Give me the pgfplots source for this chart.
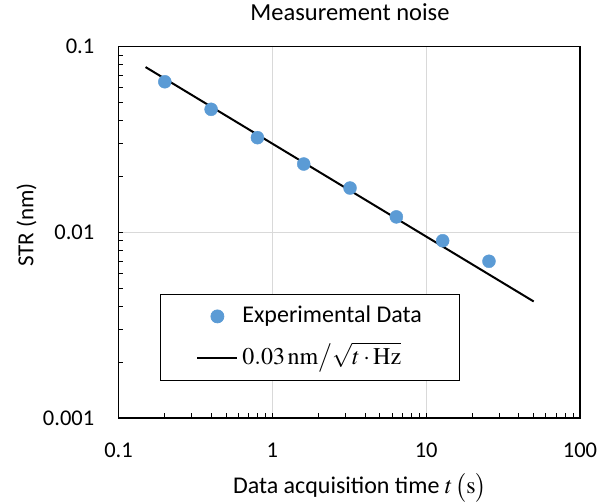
\RequirePackage{fix-cm}
\documentclass[border=0pt]{standalone}
\usepackage{mathptmx}
\usepackage[no-math]{fontspec}
\setmainfont{Carlito}
\usepackage{pgfplots}
\pgfplotsset{compat=1.18}
\definecolor{ptblue}{HTML}{5B9BD5}
\definecolor{gridgray}{HTML}{D9D9D9}
\begin{document}
\fontsize{22}{26}\selectfont
\begin{tikzpicture}
\useasboundingbox (-118.5pt,-85pt) rectangle (482.5pt,418pt);
\begin{axis}[
  at={(0pt,0pt)}, anchor=south west,
  xmode=log, ymode=log,
  scale only axis, width=461.5pt, height=371.5pt,
  xmin=0.1, xmax=100, ymin=0.001, ymax=0.1,
  xtick={0.1,1,10,100}, xticklabels={0.1,1,10,100},
  ytick={0.001,0.01,0.1}, yticklabels={0.001,0.01,0.1},
  tick pos=left,
  tick align=inside,
  major tick length=5pt, minor tick length=5pt,
  tick style={black, line width=0.8pt},
  grid=major, major grid style={gridgray, line width=0.8pt},
  axis line style={black, line width=1.3pt},
  xticklabel style={anchor=north, inner sep=0pt, yshift=-25pt, font=\fontsize{22.5}{26}\selectfont},
  yticklabel style={anchor=east, inner sep=0pt, xshift=-24pt, font=\fontsize{22.5}{26}\selectfont},
  title={Measurement noise},
  title style={at={(axis description cs:0.5016,1.0525)}, anchor=base, inner sep=0pt, font=\fontsize{24.5}{28}\selectfont},
  xlabel={Data acquisition time $t\,\bigl(\mathrm{s}\bigr)$},
  xlabel style={at={(axis description cs:0.523,-0.204)}, anchor=base, inner sep=0pt, font=\fontsize{24}{28}\selectfont},
  ylabel={STR (nm)},
  ylabel style={at={(axis description cs:-0.199,0.5195)}, anchor=center, inner sep=0pt, font=\fontsize{23}{28}\selectfont},
  legend style={at={(axis description cs:0.0899,0.3338)}, anchor=north west,
    draw=black, line width=0.8pt, inner xsep=36pt, inner ysep=6pt,
    row sep=10pt, column sep=2pt,
    nodes={inner xsep=2pt, inner ysep=2pt, text height=20pt, text depth=8pt},
    font=\fontsize{24}{28}\selectfont},
  legend cell align=left,
  legend image code/.code={\draw[mark repeat=2,mark phase=2] plot coordinates {(0pt,0pt) (20pt,0pt) (40pt,0pt)};},
]
\addplot[only marks, mark=*, mark size=6.5pt, color=ptblue, mark options={fill=ptblue, draw=ptblue}]
  coordinates {(0.2,0.0646) (0.4,0.0459) (0.8,0.0323) (1.6,0.0233) (3.2,0.0173) (6.4,0.0121) (12.8,0.0090) (25.6,0.00698)};
\addlegendentry{Experimental Data}
\addplot[black, line width=2pt, no marks] coordinates {(0.15,0.0775) (50,0.00424)};
\addlegendentry{$0.03\,\mathrm{nm}\big/\sqrt{t\cdot\mathrm{Hz}}$}
\end{axis}
\end{tikzpicture}
\end{document}
